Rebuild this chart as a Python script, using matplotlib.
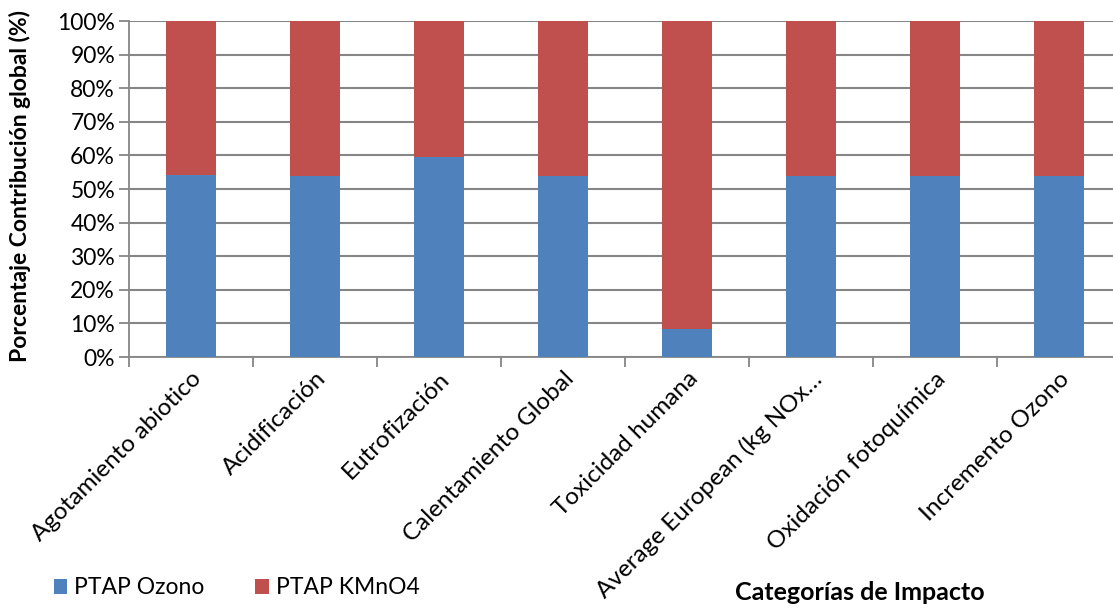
import numpy as np
import matplotlib.pyplot as plt
from matplotlib.ticker import PercentFormatter

categorias = [
    'Agotamiento abiotico',
    'Acidificación',
    'Eutrofización',
    'Calentamiento Global',
    'Toxicidad humana',
    'Average European (kg NOx…',
    'Oxidación fotoquímica',
    'Incremento Ozono',
]
ozono = [54.1, 53.9, 59.4, 54.0, 8.3, 54.0, 54.0, 54.0]
kmno4 = [45.9, 46.1, 40.6, 46.0, 91.7, 46.0, 46.0, 46.0]

plt.rcParams['font.family'] = ['Lato', 'DejaVu Sans']

azul = '#4F81BD'
rojo = '#C0504D'
gris = '#868686'
fs = 16.5

fig = plt.figure(figsize=(11.13, 6.08), dpi=100)
ax = fig.add_axes([129 / 1113, 1 - 357 / 608, 992 / 1113, 336 / 608])

x = np.arange(len(categorias))
ax.bar(x, ozono, width=0.4, color=azul, label='PTAP Ozono', zorder=3)
ax.bar(x, kmno4, width=0.4, bottom=ozono, color=rojo, label='PTAP KMnO4', zorder=3)

ax.set_xlim(-0.5, len(categorias) - 0.5)
ax.set_ylim(0, 100)
ax.set_yticks(np.arange(0, 101, 10))
ax.yaxis.set_major_formatter(PercentFormatter(decimals=0))
ax.grid(axis='y', color=gris, linewidth=1.5, zorder=0)

# ticks between categories, labels centred under each bar
ax.set_xticks(np.arange(-0.5, len(categorias), 1))
ax.set_xticklabels([])
ax.set_xticks(x, minor=True)
ax.set_xticklabels(categorias, minor=True, rotation=45, ha='right',
                   rotation_mode='anchor', fontsize=17.5)
ax.tick_params(axis='x', which='minor', length=0, pad=8)
ax.tick_params(axis='x', which='major', length=7, color=gris, width=1.3)
ax.tick_params(axis='y', length=7, color=gris, width=1.3, labelsize=fs, pad=3)

for s in ['top', 'right']:
    ax.spines[s].set_visible(False)
for s in ['left', 'bottom']:
    ax.spines[s].set_color(gris)
    ax.spines[s].set_linewidth(1.3)

fig.text(20 / 1113, 1 - 186 / 608, 'Porcentaje Contribución global (%)',
         rotation=90, ha='center', va='center', fontsize=fs, fontweight='bold')
fig.text(860 / 1113, 1 - 593 / 608, 'Categorías de Impacto',
         ha='center', va='center', fontsize=18, fontweight='bold')

fig.legend(loc='center left', bbox_to_anchor=(33 / 1113, 1 - 588 / 608), ncol=2,
           frameon=False, fontsize=fs, handlelength=0.6, handleheight=0.6,
           handletextpad=0.3, columnspacing=2.2)

fig.savefig('out.png', dpi=100)
